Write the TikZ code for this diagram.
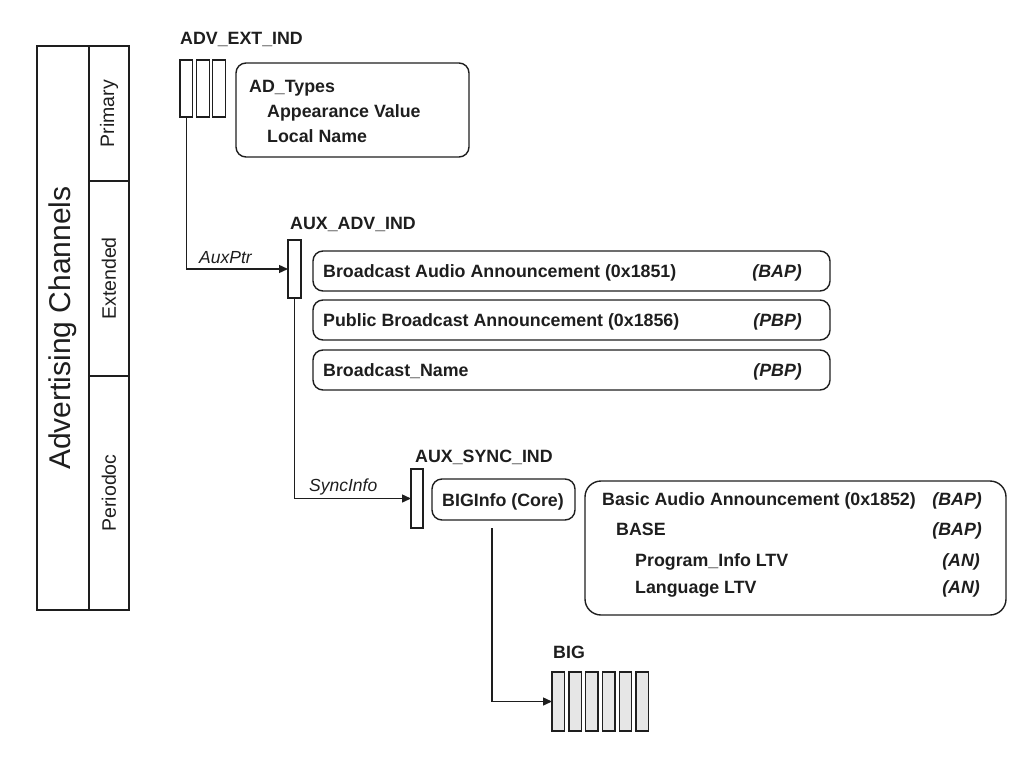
\documentclass[tikz,border=0pt]{standalone}
\usepackage{fontspec}
\setmainfont{Liberation Sans}
\usetikzlibrary{arrows.meta}
\definecolor{ink}{HTML}{1E1E1E}
\definecolor{cellgray}{HTML}{E6E6E6}
\tikzset{
  cell/.style={draw=ink, line width=1.4pt, inner sep=0pt, outer sep=0pt, anchor=north west},
  rbox/.style={cell, rounded corners=10pt},
  bigcell/.style={cell, fill=cellgray, minimum width=12.5, minimum height=59},
  bl/.style={text=ink, font=\fontsize{17.8}{20}\selectfont\bfseries, inner sep=0pt, anchor=base west},
  blr/.style={text=ink, font=\fontsize{17.8}{20}\selectfont\bfseries\itshape, inner sep=0pt, anchor=base east},
  itl/.style={text=ink, font=\fontsize{17.5}{20}\selectfont\itshape, inner sep=0pt, anchor=base west},
  side/.style={text=ink, font=\fontsize{19.5}{22}\selectfont, rotate=90, inner sep=0pt},
  conn/.style={draw=ink, line width=1.4pt, -{Triangle[length=9pt,width=8pt]}},
  plain/.style={draw=ink, line width=1.4pt},
}
\begin{document}
\begin{tikzpicture}[x=1pt,y=-1pt]
\useasboundingbox (0,0) rectangle (1024,757);
% left panel
\node[cell, minimum width=92, minimum height=564] (panel) at (37,46) {};
\node[cell, minimum width=40, minimum height=135] (prim) at (89,46) {};
\node[cell, minimum width=40, minimum height=195] (ext) at (89,181) {};
\node[cell, minimum width=40, minimum height=234] (per) at (89,376) {};
\node[text=ink, font=\fontsize{30}{34}\selectfont, rotate=90, inner sep=0pt] (title) at (63,328) {Advertising Channels};
\node[side] (primtxt) at (prim.center) {Primary};
\node[side] (exttxt) at (ext.center) {Extended};
\node[side] (pertxt) at (per.center) {Periodoc};

% ADV_EXT_IND
\node[bl] (advlbl) at (180,45) {ADV\_EXT\_IND};
\node[cell, minimum width=12.7, minimum height=57] (e1) at (180,60) {};
\node[cell, minimum width=12.5, minimum height=57] (e2) at (196.7,60) {};
\node[cell, minimum width=12.8, minimum height=57] (e3) at (212.7,60) {};
\node[rbox, minimum width=233, minimum height=94] (adt) at (236,63) {};
\node[bl] (adt1) at (249,93) {AD\_Types};
\node[bl] (adt2) at (267,117.3) {Appearance Value};
\node[bl] (adt3) at (267,142) {Local Name};

% AUX_ADV_IND
\node[bl] (auxlbl) at (290,229.3) {AUX\_ADV\_IND};
\node[cell, minimum width=13, minimum height=58] (aux) at (288,240) {};
\node[itl] (auxptr) at (199,263.3) {AuxPtr};
\draw[conn] (e1.south) |- (aux.west);

\node[rbox, minimum width=517, minimum height=40] (b1) at (313,251) {};
\node[rbox, minimum width=517, minimum height=40] (b2) at (313,300) {};
\node[rbox, minimum width=517, minimum height=40] (b3) at (313,350) {};
\node[bl] (b1t) at (323,277.5) {Broadcast Audio Announcement (0x1851)};
\node[blr] (b1r) at (802,277.5) {(BAP)};
\node[bl] (b2t) at (323,326.7) {Public Broadcast Announcement (0x1856)};
\node[blr] (b2r) at (802,326.7) {(PBP)};
\node[bl] (b3t) at (323,376.3) {Broadcast\_Name};
\node[blr] (b3r) at (802,376.3) {(PBP)};

% AUX_SYNC_IND
\node[bl] (synclbl) at (415,462.3) {AUX\_SYNC\_IND};
\node[cell, minimum width=12, minimum height=59] (sync) at (411,469) {};
\node[itl] (syncinfo) at (309,491.7) {SyncInfo};
\draw[conn] (aux.south) |- (sync.west);

\node[rbox, minimum width=143, minimum height=41] (biginfo) at (432,479) {};
\node[bl] (biginfot) at (442,506) {BIGInfo (Core)};

\node[rbox, rounded corners=16pt, minimum width=421, minimum height=134] (basic) at (585,481) {};
\node[bl] (ba1) at (602,505.7) {Basic Audio Announcement (0x1852)};
\node[blr] (ba1r) at (982,505.7) {(BAP)};
\node[bl] (ba2) at (616,535.7) {BASE};
\node[blr] (ba2r) at (982,535.7) {(BAP)};
\node[bl] (ba3) at (635,566.5) {Program\_Info LTV};
\node[blr] (ba3r) at (980,566.5) {(AN)};
\node[bl] (ba4) at (635,593.3) {Language LTV};
\node[blr] (ba4r) at (980,593.3) {(AN)};

% BIG
\node[bl] (biglbl) at (553,658) {BIG};
\node[bigcell] (g1) at (552,672) {};
\node[bigcell] (g2) at (568.8,672) {};
\node[bigcell] (g3) at (585.6,672) {};
\node[bigcell] (g4) at (602.4,672) {};
\node[bigcell] (g5) at (619.2,672) {};
\node[bigcell] (g6) at (636,672) {};
\coordinate (bigstart) at (492,528);
\draw[conn] (bigstart) |- (g1.west);
\end{tikzpicture}
\end{document}
